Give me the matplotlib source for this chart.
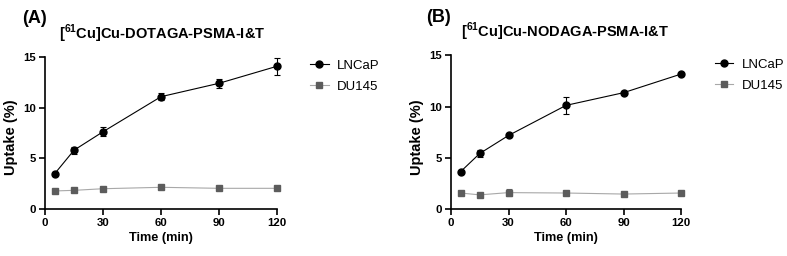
import matplotlib
matplotlib.use("Agg")
import matplotlib.pyplot as plt

plt.rcParams['font.family'] = ['Liberation Sans', 'DejaVu Sans']
plt.rcParams['mathtext.fontset'] = 'custom'
plt.rcParams['mathtext.rm'] = 'Liberation Sans'
plt.rcParams['mathtext.bf'] = 'Liberation Sans:bold'

time_min = [5, 15, 30, 60, 90, 120]

# Panel A: [61Cu]Cu-DOTAGA-PSMA-I&T
a_lncap = [3.48, 5.8, 7.62, 11.08, 12.4, 14.08]
a_lncap_err = [0.15, 0.33, 0.45, 0.35, 0.45, 0.85]
a_du145 = [1.78, 1.84, 2.0, 2.14, 2.04, 2.04]
a_du145_err = [0.08, 0.08, 0.1, 0.12, 0.08, 0.08]

# Panel B: [61Cu]Cu-NODAGA-PSMA-I&T
b_lncap = [3.64, 5.42, 7.18, 10.12, 11.36, 13.18]
b_lncap_err = [0.1, 0.3, 0.15, 0.8, 0.12, 0.12]
b_du145 = [1.56, 1.38, 1.6, 1.56, 1.46, 1.56]
b_du145_err = [0.2, 0.22, 0.32, 0.12, 0.08, 0.1]

x_ticks = [0, 30, 60, 90, 120]
y_ticks = [0, 5, 10, 15]

fig = plt.figure(figsize=(7.87, 2.56), dpi=100)

panels = [
    dict(rect=[0.0572, 0.1836, 0.2948, 0.594], label='(A)', lab_xy=(0.028, 0.927),
         title=r'[$^{\mathbf{61}}$Cu]Cu-DOTAGA-PSMA-I&T', title_xy=(0.206, 0.866),
         lncap=a_lncap, lncap_err=a_lncap_err, du=a_du145, du_err=a_du145_err,
         leg_xy=(0.394, 0.768)),
    dict(rect=[0.573, 0.1836, 0.2925, 0.600], label='(B)', lab_xy=(0.541, 0.933),
         title=r'[$^{\mathbf{61}}$Cu]Cu-NODAGA-PSMA-I&T', title_xy=(0.718, 0.876),
         lncap=b_lncap, lncap_err=b_lncap_err, du=b_du145, du_err=b_du145_err,
         leg_xy=(0.908, 0.772)),
]

for p in panels:
    ax = fig.add_axes(p['rect'])
    c1 = ax.errorbar(time_min, p['lncap'], yerr=p['lncap_err'], color='black', marker='o',
                     markersize=5, linewidth=0.8, elinewidth=0.8, capsize=2.5, capthick=0.8,
                     label='LNCaP', zorder=3)
    c2 = ax.errorbar(time_min, p['du'], yerr=p['du_err'], color='#a8a8a8', marker='s',
                     markerfacecolor='#5c5c5c', markeredgecolor='#5c5c5c', ecolor='#5c5c5c',
                     markersize=5, linewidth=0.8, elinewidth=0.8, capsize=2.5, capthick=0.8,
                     label='DU145', zorder=2)
    ax.set_xlim(0, 120)
    ax.set_ylim(0, 15)
    ax.set_xticks(x_ticks)
    ax.set_yticks(y_ticks)
    ax.spines['top'].set_visible(False)
    ax.spines['right'].set_visible(False)
    for s in ['left', 'bottom']:
        ax.spines[s].set_linewidth(1.2)
    ax.tick_params(axis='both', width=1.2, length=4, labelsize=8.2, pad=2.5)
    for lab in ax.get_xticklabels() + ax.get_yticklabels():
        lab.set_fontweight('bold')
    ax.set_xlabel('Time (min)', fontsize=9.2, fontweight='bold', labelpad=3)
    ax.set_ylabel('Uptake (%)', fontsize=10.5, fontweight='bold', labelpad=1)
    ax.yaxis.set_label_coords(-0.115, 0.47)
    for art in ax.get_children():
        try:
            art.set_clip_on(False)
        except Exception:
            pass
    fig.legend(handles=[c1[0], c2[0]], labels=['LNCaP', 'DU145'], loc='upper left',
               bbox_to_anchor=p['leg_xy'], bbox_transform=fig.transFigure, frameon=False,
               fontsize=9.5, handlelength=1.4, handletextpad=0.65, labelspacing=0.7,
               borderpad=0, borderaxespad=0)
    fig.text(p['lab_xy'][0], p['lab_xy'][1], p['label'], fontsize=13, fontweight='bold',
             ha='left', va='center')
    fig.text(p['title_xy'][0], p['title_xy'][1], p['title'], fontsize=10.5,
             fontweight='bold', ha='center', va='center')

fig.savefig('out.png', dpi=100)
